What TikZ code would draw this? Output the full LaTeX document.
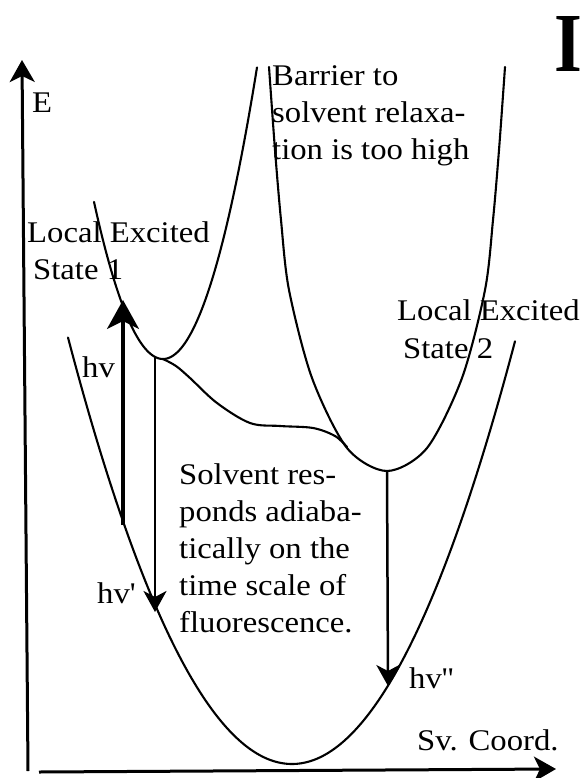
\documentclass[tikz,border=0pt]{standalone}
\usepackage{fontspec}
\setmainfont{Liberation Serif}[Ligatures=TeXOff, FakeStretch=1.09]
\newfontfamily\Ifont{Liberation Serif}[FakeStretch=0.85]
\usetikzlibrary{arrows.meta}
\begin{document}
\begin{tikzpicture}[x=1pt,y=-1pt,
  pescurve/.style={line width=2.1pt, line join=round, line cap=round},
  axisline/.style={line width=3pt, -{Stealth[length=22pt,width=25pt,inset=6pt]}},
  emitarrow/.style={line width=2.5pt, -{Stealth[length=21pt,width=23pt,inset=6pt]}},
  absarrow/.style={line width=3.3pt, -{Stealth[length=29pt,width=32pt,inset=8pt]}},
  lbl/.style={anchor=base west, inner sep=0pt, font=\fontsize{30}{37}\selectfont}]
\useasboundingbox (0,0) rectangle (582,778);

% axes
\coordinate (yS) at (28,771);
\coordinate (yE) at (22,60);
\coordinate (xS) at (39,772);
\coordinate (xE) at (556,769);
\draw[axisline] (yS) -- (yE);
\draw[axisline] (xS) -- (xE);

% ground state parabola
\draw[pescurve] plot[domain=68:515, samples=150, variable=\x] (\x, {764-85*((\x-292)/100)^2});
% local excited state 1
\draw[pescurve] plot[domain=94:257, samples=100, variable=\x] (\x, {359-330*((\x-163)/100)^2});
% local excited state 2 (tall well)
\draw[pescurve] plot[smooth, tension=0.5] coordinates {(269,67) (275,150) (281,220) (289,290) (312,378) (347,448) (387,471) (427,448) (462,378) (485,290) (493,220) (499,150) (505,67)};
% adiabatic surface
\draw[pescurve] plot[smooth, tension=0.55] coordinates {(163,359) (176,366) (190,378) (217,403) (250,423) (280,426) (313,428) (335,436) (347,447)};

% transitions
\coordinate (absS) at (123,525);
\coordinate (absE) at (123,300);
\coordinate (em1S) at (155,357);
\coordinate (em1E) at (155,612);
\coordinate (em2S) at (387,471);
\coordinate (em2E) at (388,686);
\draw[absarrow] (absS) -- (absE);
\draw[emitarrow] (em1S) -- (em1E);
\draw[emitarrow] (em2S) -- (em2E);

% labels
\node[lbl] (E) at (32,113) {E};
\node[lbl] (bar1) at (272,86) {Barrier to};
\node[lbl] (bar2) at (272,123) {solvent relaxa-};
\node[lbl] (bar3) at (272,160) {tion is too high};
\node[lbl] (lea) at (27,242) {Local Excited};
\node[lbl] (leb) at (33,279) {State 1};
\node[lbl] (lec) at (397,320) {Local Excited};
\node[lbl] (led) at (403,358) {State 2};
\node[lbl] (hv) at (82,377) {hv};
\node[lbl] (hvp) at (97,603) {hv'};
\node[lbl] (hvpp) at (409,688) {hv''};
\node[lbl] (sol1) at (179,484) {Solvent res-};
\node[lbl] (sol2) at (179,521) {ponds adiaba-};
\node[lbl] (sol3) at (179,558) {tically on the};
\node[lbl] (sol4) at (179,595) {time scale of};
\node[lbl] (sol5) at (179,632) {fluorescence.};
\node[lbl] (sv) at (417,750) {Sv. Coord.};
\node[anchor=base, inner sep=0pt, font=\Ifont\bfseries\fontsize{84}{84}\selectfont] (bigI) at (568,72) {I};
\end{tikzpicture}
\end{document}
